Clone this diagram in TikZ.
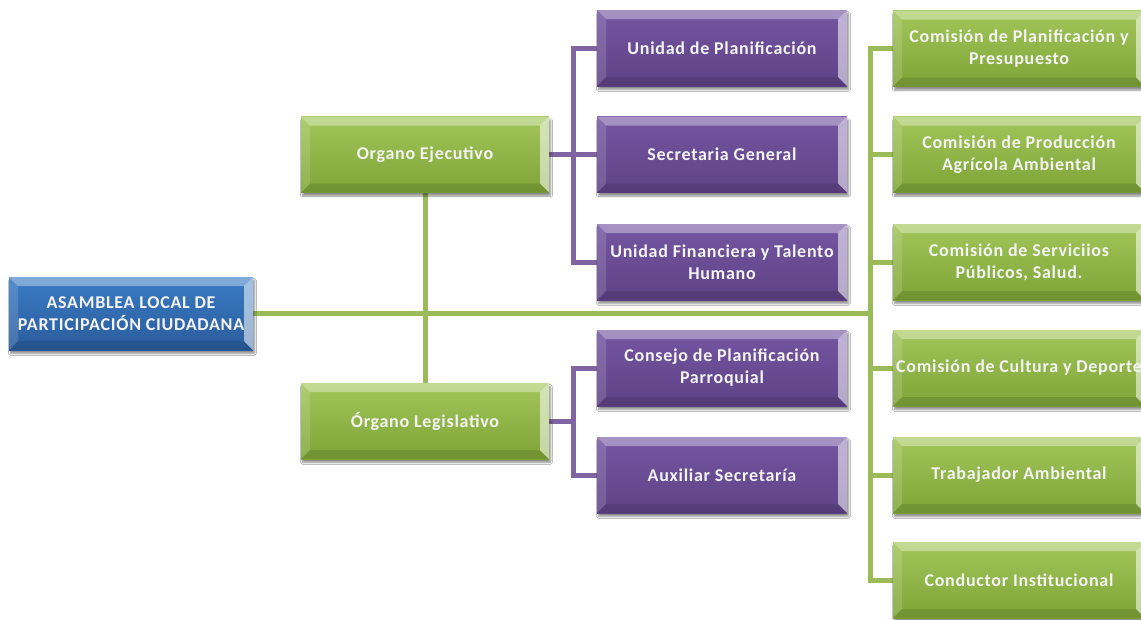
\documentclass[tikz,border=0pt]{standalone}
\usepackage{fontspec}
\setmainfont{Carlito}
\usetikzlibrary{shadows.blur,backgrounds}

\definecolor{grTop}{HTML}{A2C65A}
\definecolor{grBot}{HTML}{7EA336}
\definecolor{puTop}{HTML}{7556A2}
\definecolor{puBot}{HTML}{5E4285}
\definecolor{blTop}{HTML}{3A7BC4}
\definecolor{blBot}{HTML}{2A5C9C}
\definecolor{grLine}{HTML}{9BBB59}
\definecolor{puLine}{HTML}{8064A2}
\definecolor{boxText}{HTML}{F4F4F4}

% four bevel facets laid over every box
\newcommand\boxbevel{%
  \fill[white,opacity=.36]
    (path picture bounding box.north west) -- (path picture bounding box.north east)
    -- ([xshift=-9pt,yshift=-9pt]path picture bounding box.north east)
    -- ([xshift=9pt,yshift=-9pt]path picture bounding box.north west) -- cycle;
  \fill[white,opacity=.14]
    (path picture bounding box.north west) -- ([xshift=9pt,yshift=-9pt]path picture bounding box.north west)
    -- ([xshift=9pt,yshift=9pt]path picture bounding box.south west)
    -- (path picture bounding box.south west) -- cycle;
  \fill[black,opacity=.10]
    (path picture bounding box.south west) -- (path picture bounding box.south east)
    -- ([xshift=-9pt,yshift=9pt]path picture bounding box.south east)
    -- ([xshift=9pt,yshift=9pt]path picture bounding box.south west) -- cycle;
  \fill[white,opacity=.55]
    (path picture bounding box.north east) -- (path picture bounding box.south east)
    -- ([xshift=-9pt,yshift=9pt]path picture bounding box.south east)
    -- ([xshift=-9pt,yshift=-9pt]path picture bounding box.north east) -- cycle;
}

\tikzset{
  bevelbox/.style={rectangle, inner sep=0pt, align=center, text=boxText,
    font=\bfseries\fontsize{18}{22}\selectfont\addfontfeatures{LetterSpace=4},
    minimum height=76pt,
    blur shadow={shadow xshift=1.5pt, shadow yshift=-3.5pt, shadow blur steps=6, shadow opacity=45},
    path picture={\boxbevel}},
  greenbox/.style={bevelbox, top color=grTop, bottom color=grBot, minimum width=248pt},
  purplebox/.style={bevelbox, top color=puTop, bottom color=puBot, minimum width=250pt},
  bluebox/.style={bevelbox, top color=blTop, bottom color=blBot, minimum width=244pt, minimum height=73pt},
  sidebox/.style={greenbox, minimum width=252pt},
  greenlink/.style={draw=grLine, line width=5pt},
  purplelink/.style={draw=puLine, line width=5pt},
}

\begin{document}
\begin{tikzpicture}[x=1pt,y=-1pt]
\useasboundingbox (0,0) rectangle (1141,619);

% root
\node[bluebox] (asamblea) at (131,313.5) {ASAMBLEA LOCAL DE\\PARTICIPACIÓN CIUDADANA};

% two governing bodies
\node[greenbox] (ejec)  at (425,154.5) {Organo Ejecutivo};
\node[greenbox] (legis) at (425,421)   {Órgano Legislativo};

% units under the executive body
\node[purplebox] (p1) at (722,48)    {Unidad de Planificación};
\node[purplebox] (p2) at (722,154.5) {Secretaria General};
\node[purplebox] (p3) at (722,262)   {Unidad Financiera y Talento\\Humano};
% units under the legislative body
\node[purplebox] (p4) at (722,368)   {Consejo de Planificación\\Parroquial};
\node[purplebox] (p5) at (722,475)   {Auxiliar Secretaría};

% commissions and staff
\node[sidebox] (c1) at (1019,48.5) {Comisión de Planificación y\\Presupuesto};
\node[sidebox] (c2) at (1019,154.5) {Comisión de Producción\\Agrícola Ambiental};
\node[sidebox] (c3) at (1019,262)  {Comisión de Serviciios\\Públicos, Salud.};
\node[sidebox] (c4) at (1019,368)  {Comisión de Cultura y Deporte};
\node[sidebox] (c5) at (1019,475)  {Trabajador Ambiental};
\node[sidebox] (c6) at (1019,580)  {Conductor Institucional};

% trunk positions
\coordinate (gx) at (870,0);
\coordinate (px) at (573,0);

\begin{scope}[on background layer]
  \fill[white] (0,0) rectangle (1141,619);
  % green connectors
  \draw[greenlink] (asamblea.east) -- (asamblea.east -| gx);
  \draw[greenlink] (ejec.south) -- (legis.north);
  \draw[greenlink] (c1.west) -| (c6.west -| gx) -- (c6.west);
  \foreach \c in {c2,c3,c4,c5}
    \draw[greenlink] (\c.west) -- (\c.west -| gx);
  % purple connectors
  \draw[purplelink] (ejec.east) -- (ejec.east -| px);
  \draw[purplelink] (p1.west) -| (p3.west -| px) -- (p3.west);
  \draw[purplelink] (p2.west) -- (p2.west -| px);
  \draw[purplelink] (legis.east) -- (legis.east -| px);
  \draw[purplelink] (p4.west) -| (p5.west -| px) -- (p5.west);
\end{scope}
\end{tikzpicture}
\end{document}
